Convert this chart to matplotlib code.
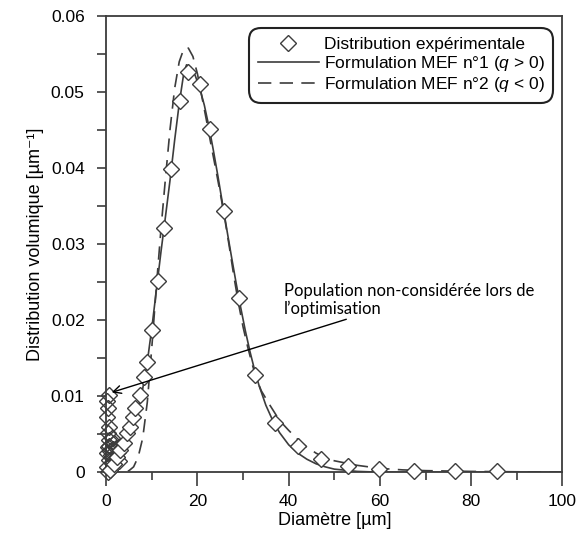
import matplotlib
matplotlib.use('Agg')
import matplotlib.pyplot as plt
from matplotlib.ticker import MultipleLocator

plt.rcParams['font.family'] = ['Liberation Sans', 'DejaVu Sans']
plt.rcParams['mathtext.fontset'] = 'custom'
plt.rcParams['mathtext.rm'] = 'Liberation Sans'
plt.rcParams['mathtext.it'] = 'Liberation Sans:italic'

# points experimentaux (diametre en um, distribution volumique en um^-1)
exp_x = [0.9, 1.6, 2.3, 3.1, 3.8, 4.5, 5.1, 5.9, 6.4, 7.3, 8.2, 8.9, 10.0, 11.3,
         12.7, 14.3, 16.1, 18.0, 20.5, 22.8, 25.8, 29.2, 32.7, 37.1, 42.0, 47.1,
         53.1, 59.9, 67.5, 76.4, 85.7]
exp_y = [0.0003, 0.0011, 0.0020, 0.0029, 0.0038, 0.0051, 0.0060, 0.0073, 0.0084,
         0.0101, 0.0125, 0.0145, 0.0187, 0.0252, 0.0321, 0.0399, 0.0489, 0.0527,
         0.0511, 0.0451, 0.0343, 0.0229, 0.0128, 0.0065, 0.0034, 0.0017, 0.0008,
         0.0004, 0.0002, 0.0001, 0.0001]

# population fine (non consideree lors de l'optimisation)
fine_x = [0.5, 0.2, 0.4, 0.1, 0.5, 0.3, 0.6, 0.4, 0.1, 0.5, 0.2, 0.3,
          1.2, 1.8, 2.2, 1.5, 2.6, 1.0, 2.0, 2.8, 1.3, 0.7, 0.9]
fine_y = [0.0101, 0.0093, 0.0084, 0.0073, 0.0060, 0.0051, 0.0042, 0.0033, 0.0025,
          0.0016, 0.0007, 0.0000, 0.0045, 0.0038, 0.0032, 0.0030, 0.0026, 0.0022,
          0.0018, 0.0015, 0.0012, 0.0035, 0.0028]

# formulation MEF n°1 (q > 0)
mef1_x = [0, 1, 2, 3, 4, 5, 6, 7, 8, 9, 10, 11, 12, 13, 14, 15, 16, 17, 17.6, 18.5,
          19.5, 20.5, 21.5, 22.5, 23.5, 24.5, 25.5, 26.5, 27.5, 28.5, 29.5, 30.5,
          31.5, 32.5, 33.5, 35, 36.5, 38, 40, 42, 44, 46, 48, 50, 55, 60, 100]
mef1_y = [0.0, 0.0002, 0.0008, 0.0018, 0.0030, 0.0045, 0.0063, 0.0084, 0.0110,
          0.0145, 0.0190, 0.0240, 0.0290, 0.0337, 0.0385, 0.0437, 0.0485, 0.0525,
          0.0536, 0.0533, 0.0522, 0.0505, 0.0483, 0.0455, 0.0423, 0.0389, 0.0353,
          0.0317, 0.0282, 0.0248, 0.0216, 0.0186, 0.0159, 0.0135, 0.0114, 0.0088,
          0.0068, 0.0052, 0.0036, 0.0025, 0.0017, 0.0011, 0.0007, 0.0004, 0.0001,
          0.0, 0.0]

# formulation MEF n°2 (q < 0)
mef2_x = [0, 3, 4, 5, 6, 7, 8, 9, 10, 11, 12, 13, 14, 15, 16, 17, 18, 19, 20, 21,
          22, 23, 24, 25, 26, 27, 28, 29, 30, 31, 32, 33, 34, 36, 38, 40, 42, 44,
          46, 48, 50, 55, 60, 65, 70, 80, 100]
mef2_y = [0.0, 0.0, 0.00005, 0.0002, 0.0007, 0.0020, 0.0045, 0.0092, 0.0165,
          0.0245, 0.0320, 0.0388, 0.0452, 0.0505, 0.0540, 0.0557, 0.0558, 0.0547,
          0.0524, 0.0493, 0.0462, 0.0430, 0.0399, 0.0367, 0.0333, 0.0296, 0.0257,
          0.0222, 0.0191, 0.0165, 0.0142, 0.0122, 0.0107, 0.0087, 0.0068, 0.0055,
          0.0043, 0.0033, 0.0025, 0.0019, 0.0015, 0.0009, 0.0005, 0.0003, 0.0002,
          0.0001, 0.0]

xticks = [0, 20, 40, 60, 80, 100]
yticks = [0, 0.01, 0.02, 0.03, 0.04, 0.05, 0.06]
ytick_labels = ['0', '0.01', '0.02', '0.03', '0.04', '0.05', '0.06']

gris = '#3c3c3c'

fig = plt.figure(figsize=(5.87, 5.39), dpi=100)
ax = fig.add_axes([0.181, 0.124, 0.777, 0.846])

ax.plot(mef1_x, mef1_y, '-', color=gris, lw=1.2, label=r'Formulation MEF n°1 ($\mathit{q}$ > 0)', zorder=2)
ax.plot(mef2_x, mef2_y, '--', color=gris, lw=1.2, dashes=(8, 5),
        label=r'Formulation MEF n°2 ($\mathit{q}$ < 0)', zorder=2)
ax.plot(fine_x, fine_y, 'D', ms=8.5, mfc='none', mec=gris, mew=1.0, zorder=3, clip_on=False)
ax.plot(exp_x, exp_y, 'D', ms=8.5, mfc='white', mec=gris, mew=1.0,
        label='Distribution expérimentale', zorder=3, clip_on=False)

ax.set_xlim(0, 100)
ax.set_ylim(0, 0.06)
ax.set_xticks(xticks)
ax.set_yticks(yticks)
ax.set_yticklabels(ytick_labels)
ax.xaxis.set_minor_locator(MultipleLocator(10))
ax.yaxis.set_minor_locator(MultipleLocator(0.005))

ax.tick_params(axis='x', which='major', direction='out', length=10, width=1.2,
               color=gris, labelsize=12.5, pad=6)
ax.tick_params(axis='x', which='minor', direction='out', length=5.5, width=1.2, color=gris)
ax.tick_params(axis='y', which='both', direction='out', length=6.5, width=1.2,
               color=gris, labelsize=12.5, pad=9)
for s in ax.spines.values():
    s.set_color(gris)
    s.set_linewidth(1.3)

ax.set_xlabel('Diamètre [µm]', fontsize=13, labelpad=2)
ax.set_ylabel('Distribution volumique [µm\u207b\u00b9]', fontsize=13, labelpad=5)

h, l = ax.get_legend_handles_labels()
leg = ax.legend([h[2], h[0], h[1]], [l[2], l[0], l[1]], loc='upper right',
                bbox_to_anchor=(0.988, 0.982), fontsize=12.5, handlelength=3.5,
                handletextpad=0.3, borderpad=0.2, labelspacing=0.12,
                fancybox=True, framealpha=1, edgecolor='#222222')
leg.get_frame().set_linewidth(1.5)
leg.get_frame().set_boxstyle('round', rounding_size=0.7)

ax.annotate('Population non-considérée lors de\nl\u2019optimisation', xy=(1.2, 0.0105),
            xytext=(39, 0.0227), fontsize=12, family=['Lato', 'DejaVu Sans'],
            ha='left', va='center', linespacing=1.1,
            arrowprops=dict(arrowstyle='->', color='black', lw=1.0,
                            shrinkA=0, shrinkB=0, mutation_scale=14))

fig.savefig('out.png', dpi=100)
